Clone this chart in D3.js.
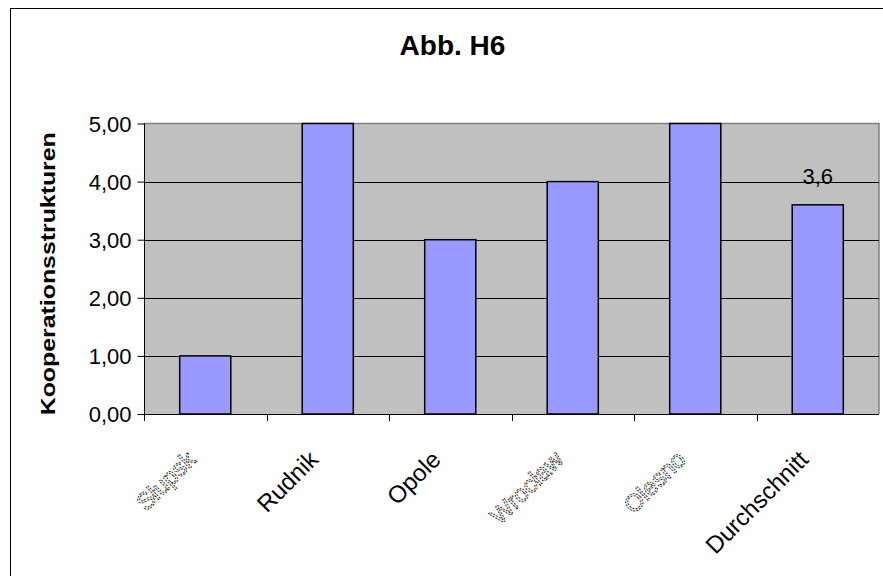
<!DOCTYPE html>
<html><head><meta charset="utf-8">
<script src="https://cdn.jsdelivr.net/npm/d3@7"></script>
<style>body{margin:0;background:#fff}svg{display:block}text{font-family:"Liberation Sans",Arial,sans-serif}</style>
</head><body>
<svg id="c" width="883" height="576"></svg>
<script>
const categories = ["Słupsk","Rudnik","Opole","Wrocław","Olesno","Durchschnitt"];
const values = [1,5,3,4,5,3.6];
const faded = ["Słupsk","Wrocław","Olesno"];
const yTicks = [0,1,2,3,4,5];
const title = "Abb. H6";
const yTitle = "Kooperationsstrukturen";
const dataLabels = [{cat:"Durchschnitt", value:3.6, text:"3,6"}];

const svg = d3.select("#c");
const L=144, R=879, T=123.5, B=414;
svg.append("rect").attr("x",10.5).attr("y",8.5).attr("width",900).attr("height",600).attr("fill","#fff").attr("stroke","#000").attr("stroke-width",1);

const x = d3.scaleBand().domain(categories).range([L,R]).paddingInner(0.583).paddingOuter(0.2915);
const xb = d3.scaleBand().domain(categories).range([L,R]);
const y = d3.scaleLinear().domain([0,5]).range([B,T]);

svg.append("rect").attr("x",L).attr("y",T).attr("width",R-L).attr("height",B-T).attr("fill","#C0C0C0");
svg.append("path").attr("d",`M${L},${T}H${R}V${B}`).attr("fill","none").attr("stroke","#808080").attr("stroke-width",1.5);

svg.selectAll(".grid").data(yTicks.filter(t=>t>0&&t<5)).join("line")
  .attr("x1",L).attr("x2",R).attr("y1",d=>Math.round(y(d))+0.5).attr("y2",d=>Math.round(y(d))+0.5)
  .attr("stroke","#000").attr("stroke-width",1);

svg.selectAll(".bar").data(values).join("rect")
  .attr("x",(d,i)=>x(categories[i])).attr("width",x.bandwidth())
  .attr("y",d=>y(d)).attr("height",d=>B-y(d))
  .attr("fill","#9999FF").attr("stroke","#000").attr("stroke-width",1.5);

// y axis
const yAxis = d3.axisLeft(y).tickValues(yTicks).tickSize(7).tickFormat(d=>d3.format(".2f")(d).replace(".",","));
const ya = svg.append("g").attr("transform",`translate(${L+0.5},0)`).call(yAxis);
ya.select(".domain").attr("stroke","#000").attr("d",`M-0,${T}V${B}`);
ya.selectAll("line").attr("stroke","#000");
ya.selectAll("text").attr("font-size",22).attr("fill","#000").attr("x",-13).attr("dy","0.36em").style("font-family","'Liberation Sans',Arial,sans-serif");

// x axis
svg.append("line").attr("x1",L).attr("x2",R).attr("y1",B+0.5).attr("y2",B+0.5).attr("stroke","#000");
const bounds = categories.map(c=>xb(c));
svg.selectAll(".xt").data(bounds).join("line")
  .attr("x1",d=>Math.round(d)+0.5).attr("x2",d=>Math.round(d)+0.5).attr("y1",B).attr("y2",B+7).attr("stroke","#000");

svg.selectAll(".xl").data(categories).join("text")
  .attr("transform",d=>`translate(${xb(d)+xb.bandwidth()/2-8},${461}) rotate(-45)`)
  .attr("text-anchor","end").attr("font-size",24)
  .attr("fill",d=>faded.includes(d)?"#fafafa":"#000")
  .attr("stroke",d=>faded.includes(d)?"#222":"none")
  .attr("stroke-width",0.9).attr("stroke-dasharray",d=>faded.includes(d)?"2,1.2":null)
  .text(d=>d);

// data labels
svg.selectAll(".dl").data(dataLabels).join("text")
  .attr("x",d=>xb(d.cat)+xb.bandwidth()/2).attr("y",d=>y(d.value)-21)
  .attr("text-anchor","middle").attr("font-size",22).attr("fill","#000").text(d=>d.text);

// titles
svg.append("text").attr("x",452.5).attr("y",55).attr("text-anchor","middle").attr("font-size",28).attr("font-weight","bold").text(title);
svg.append("text").attr("transform",`translate(55,${(T+B)/2+5}) rotate(-90)`).attr("text-anchor","middle")
  .attr("font-size",19.5).attr("font-weight","bold").attr("textLength",283).attr("lengthAdjust","spacingAndGlyphs").text(yTitle);
</script>
</body></html>
